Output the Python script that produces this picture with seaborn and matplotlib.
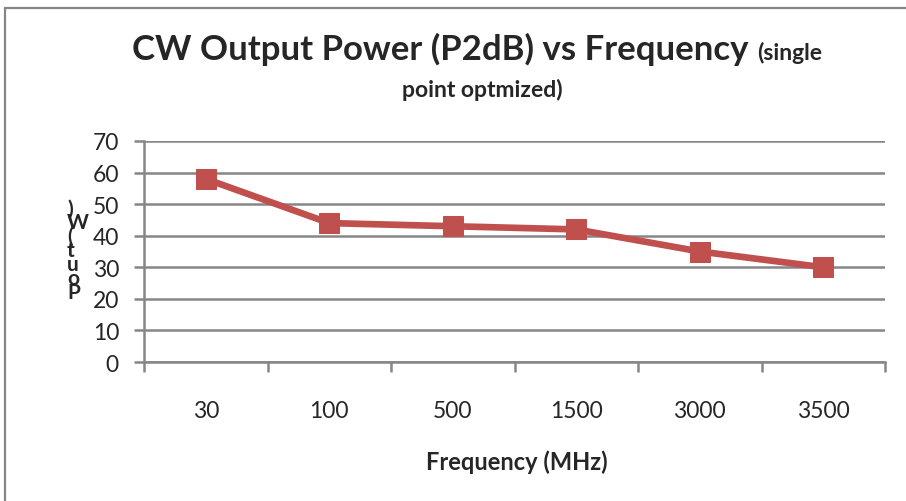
import matplotlib
matplotlib.use("Agg")
import matplotlib.pyplot as plt
import seaborn as sns
import pandas as pd
from matplotlib.lines import Line2D

sns.set_style("white")
plt.rcParams["font.family"] = ["Lato", "DejaVu Sans"]

# Data
freqs = ["30", "100", "500", "1500", "3000", "3500"]
pout = [58, 44, 43, 42, 35, 30]

df = pd.DataFrame({"Frequency": freqs, "Pout": pout})

W, H = 906, 502
fig = plt.figure(figsize=(W / 100, H / 100), dpi=100)


def fx(x):
    return x / W


def fy(y):
    return 1 - y / H


grey = "#868686"
red = "#C0504D"

ax = fig.add_axes([fx(144), fy(363), fx(885) - fx(144), fy(142) - fy(363)])
ax.set_ylim(0, 70)
ax.set_yticks(range(0, 71, 10))
ax.yaxis.grid(True, color=grey, linewidth=1.8)
ax.set_axisbelow(True)

sns.lineplot(data=df, x="Frequency", y="Pout", ax=ax, color=red, linewidth=4.8,
             marker="s", markersize=14, markeredgecolor=red, sort=False)
ax.set_xlim(-0.5, len(freqs) - 0.5)

for s in ["top", "right"]:
    ax.spines[s].set_visible(False)
for s in ["left", "bottom"]:
    ax.spines[s].set_color(grey)
    ax.spines[s].set_linewidth(1.8)

# y ticks
ax.tick_params(axis="y", which="major", direction="out", length=7, width=1.8,
               color=grey, labelsize=16.5, pad=11, left=True)
# x ticks: labels at categories, tick marks between them
ax.set_xticks(range(len(freqs)))
ax.set_xticklabels(freqs)
ax.set_xticks([i - 0.5 for i in range(len(freqs) + 1)], minor=True)
ax.tick_params(axis="x", which="major", length=0, labelsize=16.5, pad=27)
ax.tick_params(axis="x", which="minor", direction="out", length=7, width=1.8,
               color=grey, bottom=True)
ax.set_xlabel("")
ax.set_ylabel("")

fig.text(fx(517), fy(462), "Frequency (MHz)", ha="center", va="center",
         fontsize=17, fontweight="bold")

# stacked y label, as garbled in the source
fig.text(fx(67), fy(251), ")\nW\n(\nt\nu\no\nP", ha="left", va="center",
         fontsize=15, fontweight="bold", linespacing=0.62)

# title
fig.text(fx(748), fy(60), "CW Output Power (P2dB) vs Frequency", ha="right",
         va="baseline", fontsize=25, fontweight="bold")
fig.text(fx(757), fy(60), "(single", ha="left", va="baseline", fontsize=16.5,
         fontweight="bold")
fig.text(fx(482), fy(97), "point optmized)", ha="center", va="baseline",
         fontsize=16.5, fontweight="bold")

# chart border
fig.add_artist(Line2D([fx(5), 1], [fy(9), fy(9)], color=grey, linewidth=1.6))
fig.add_artist(Line2D([fx(5), fx(5)], [fy(9), 0], color=grey, linewidth=1.6))

fig.savefig("out.png", dpi=100)
